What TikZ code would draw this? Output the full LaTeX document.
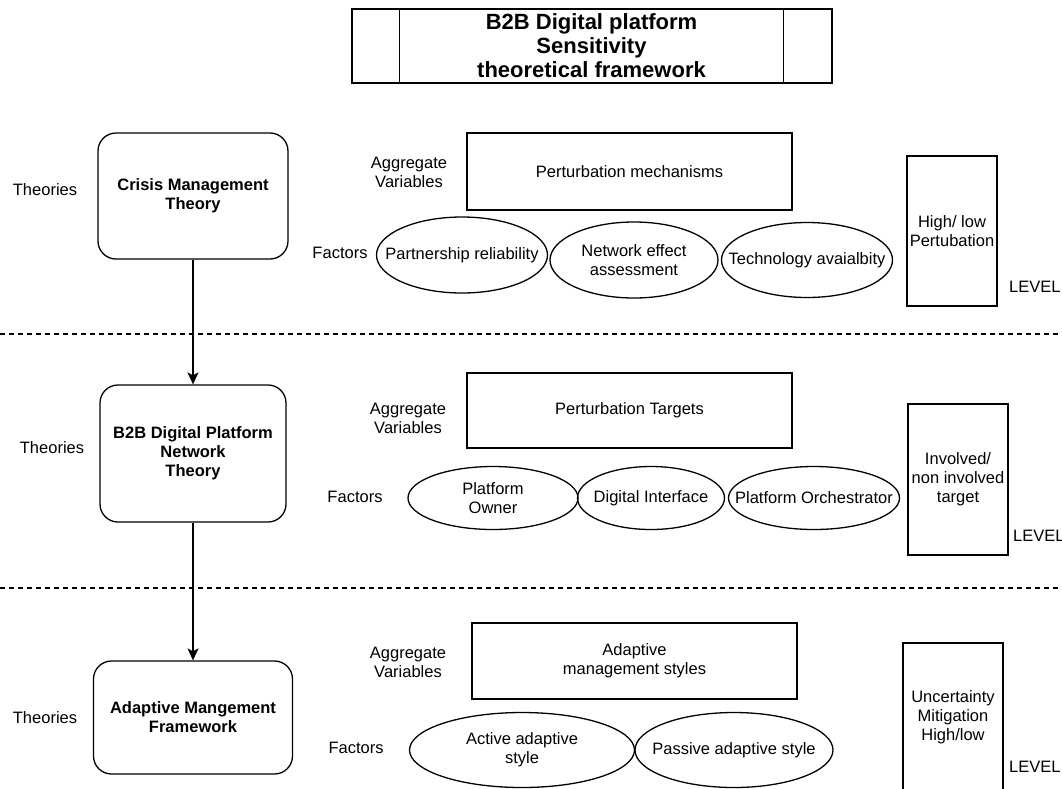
\documentclass[tikz,border=0pt]{standalone}
\usepackage{fontspec}
\setmainfont{Liberation Sans}
\usetikzlibrary{shapes.geometric,arrows.meta}
\begin{document}
\begin{tikzpicture}[x=1pt,y=-1pt,
  every node/.style={font=\fontsize{16.5}{19}\selectfont, align=center, inner sep=0pt},
  box/.style={draw, line width=1.3pt},
  theory/.style={box, rounded corners=18pt, font=\bfseries\fontsize{16.5}{19}\selectfont},
  fac/.style={draw, ellipse, line width=1.3pt},
  sep/.style={dash pattern=on 5pt off 4pt, line width=1.1pt},
  flow/.style={-{Stealth[length=12pt,width=11pt,inset=3pt]}, line width=1.3pt}]
\useasboundingbox (0,0) rectangle (1062,788);
\clip (0,0) rectangle (1062,788);

% title
\node[box, minimum width=480pt, minimum height=74pt] (title) at (592,46) {};
\draw[line width=1.3pt] ([xshift=48pt]title.north west) -- ([xshift=48pt]title.south west);
\draw[line width=1.3pt] ([xshift=-49pt]title.north east) -- ([xshift=-49pt]title.south east);
\node[font=\bfseries\fontsize{22}{24}\selectfont] (ttl) at (591.5,46) {B2B Digital platform\\Sensitivity\\theoretical framework};

% theory boxes
\node[theory, minimum width=190pt, minimum height=126pt] (th1) at (193,196) {Crisis Management\\Theory};
\node[theory, minimum width=186pt, minimum height=137pt] (th2) at (193,453.5) {B2B Digital Platform\\Network\\Theory};
\node[theory, minimum width=199pt, minimum height=113pt] (th3) at (193,717.5) {Adaptive Mangement\\Framework};
\draw[flow] (th1.south) -- (th2.north);
\draw[flow] (th2.south) -- (th3.north);

% row labels
\node (t1) at (45,190) {Theories};
\node (t2) at (52,448) {Theories};
\node (t3) at (45,718) {Theories};
\node (a1) at (409,172) {Aggregate\\Variables};
\node (a2) at (408,418) {Aggregate\\Variables};
\node (a3) at (408,662) {Aggregate\\Variables};
\node (f1) at (340,253) {Factors};
\node (f2) at (355,497) {Factors};
\node (f3) at (356,748) {Factors};
\node[anchor=west] (l1) at (1009,287) {LEVEL};
\node[anchor=west] (l2) at (1013,536) {LEVEL};
\node[anchor=west] (l3) at (1009,767) {LEVEL};

% aggregate boxes
\node[box, minimum width=325pt, minimum height=77pt] (ag1) at (629.5,171.5) {Perturbation mechanisms};
\node[box, minimum width=325pt, minimum height=75pt] (ag2) at (629.5,410.5) {Perturbation Targets};
\node[box, minimum width=325pt, minimum height=76pt] (ag3) at (634.5,661) {Adaptive\\management styles};

% level boxes
\node[box, minimum width=90pt, minimum height=150pt] (lv1) at (952,231) {High/ low\\Pertubation};
\node[box, minimum width=100pt, minimum height=151pt] (lv2) at (958,479.5) {Involved/\\non involved\\target};
\node[box, minimum width=100pt, minimum height=177pt] (lv3) at (953,731.5) {};
\node (lv3t) at (953,717) {Uncertainty\\Mitigation\\High/low};

% factor ellipses
\node[fac, minimum width=171pt, minimum height=76pt] (e11) at (462,255) {};
\node (e11t) at (e11) {Partnership reliability};
\node[fac, minimum width=168pt, minimum height=76pt] (e12) at (634,260) {};
\node (e12t) at (e12) {Network effect\\assessment};
\node[fac, minimum width=171pt, minimum height=75pt] (e13) at (807,260) {};
\node (e13t) at (e13) {Technology avaialbity};

\node[fac, minimum width=170pt, minimum height=63pt] (e21) at (493,498) {};
\node (e21t) at (e21) {Platform\\Owner};
\node[fac, minimum width=147pt, minimum height=63pt] (e22) at (651,498) {};
\node (e22t) at (e22) {Digital Interface};
\node[fac, minimum width=171pt, minimum height=63pt] (e23) at (814,498) {};
\node (e23t) at (e23) {Platform Orchestrator};

\node[fac, minimum width=225pt, minimum height=75pt] (e31) at (522,750) {};
\node (e31t) at (e31) {Active adaptive\\style};
\node[fac, minimum width=198pt, minimum height=75pt] (e32) at (734,750) {};
\node (e32t) at (e32) {Passive adaptive style};

% dashed separators
\coordinate (d1l) at (0,334);
\coordinate (d1r) at (1062,334);
\coordinate (d2l) at (0,588);
\coordinate (d2r) at (1062,588);
\draw[sep] (d1l) -- (d1r);
\draw[sep] (d2l) -- (d2r);
\end{tikzpicture}
\end{document}
